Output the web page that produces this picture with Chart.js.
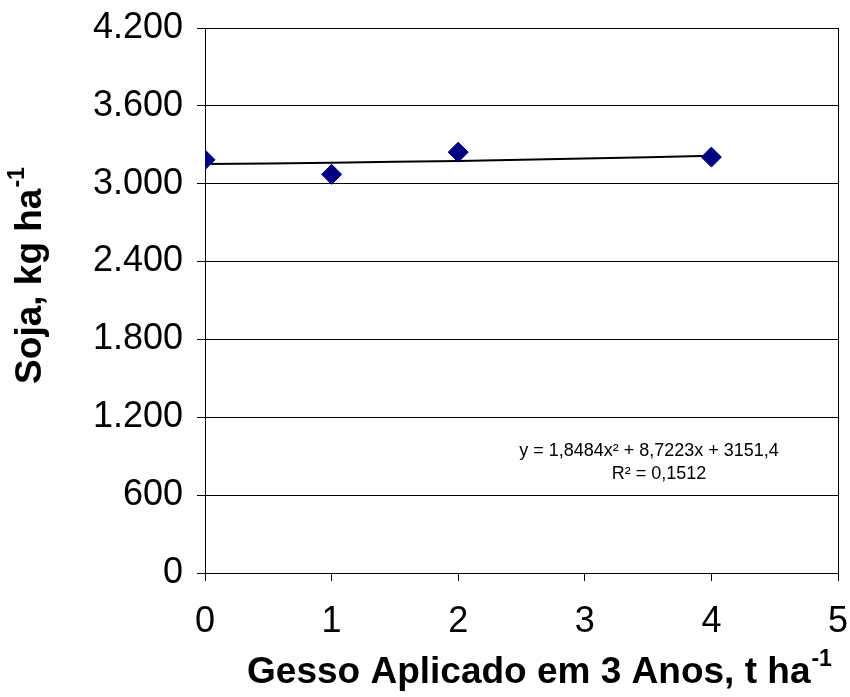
<!DOCTYPE html>
<html>
<head>
<meta charset="utf-8">
<script src="https://cdn.jsdelivr.net/npm/chart.js@4.4.0/dist/chart.umd.min.js"></script>
<style>
    body { margin: 0; background: #fff; }
    #wrap { width: 850px; height: 697px; }
</style>
</head>
<body>
<div id="wrap"><canvas id="chart" width="850" height="697"></canvas></div>
<script>
// Data
const gessoDoses = [0, 1, 2, 4];
const sojaYield = [3185, 3072, 3243, 3205];

// Trend line (polynomial fit shown on chart)
const trendX = [0, 1, 2, 3, 4];
const trendY = [3151, 3162, 3176, 3194, 3215];

const yTicks = [0, 600, 1200, 1800, 2400, 3000, 3600, 4200];
const xTicks = [0, 1, 2, 3, 4, 5];

const equationLines = ['y = 1,8484x\u00b2 + 8,7223x + 3151,4', 'R\u00b2 = 0,1512'];

const FONT = 'Arial, "Liberation Sans", sans-serif';

function formatThousands(v) {
    return String(v).replace(/\B(?=(\d{3})+(?!\d))/g, '.');
}

// Draws axis titles (with superscripts) and the regression equation
const annotations = {
    id: 'annotations',
    afterDraw(chart) {
        const ctx = chart.ctx;
        ctx.save();
        ctx.fillStyle = '#000';

        // equation
        ctx.font = '18px ' + FONT;
        ctx.textAlign = 'center';
        ctx.textBaseline = 'middle';
        ctx.fillText(equationLines[0], 649, 451);
        ctx.fillText(equationLines[1], 659, 474);

        // x title
        const xMain = 'Gesso Aplicado em 3 Anos, t ha';
        const sup = '-1';
        ctx.textAlign = 'left';
        ctx.textBaseline = 'alphabetic';
        ctx.font = 'bold 37px ' + FONT;
        const wMain = ctx.measureText(xMain).width;
        ctx.font = 'bold 23px ' + FONT;
        const wSup = ctx.measureText(sup).width;
        const x0 = 539 - (wMain + wSup) / 2;
        ctx.font = 'bold 37px ' + FONT;
        ctx.fillText(xMain, x0, 683);
        ctx.font = 'bold 23px ' + FONT;
        ctx.fillText(sup, x0 + wMain + 1, 666);

        // y title
        const yMain = 'Soja, kg ha';
        ctx.translate(41, 276);
        ctx.rotate(-Math.PI / 2);
        ctx.font = 'bold 37px ' + FONT;
        const wy = ctx.measureText(yMain).width;
        ctx.font = 'bold 23px ' + FONT;
        const wys = ctx.measureText(sup).width;
        const y0 = -(wy + wys) / 2;
        ctx.font = 'bold 37px ' + FONT;
        ctx.fillText(yMain, y0, 0);
        ctx.font = 'bold 23px ' + FONT;
        ctx.fillText(sup, y0 + wy + 1, -17);

        ctx.restore();
    }
};

new Chart(document.getElementById('chart'), {
    type: 'scatter',
    data: {
        datasets: [
            {
                label: 'Soja',
                data: gessoDoses.map((x, i) => ({ x: x, y: sojaYield[i] })),
                pointStyle: 'rectRot',
                pointRadius: 10,
                pointBackgroundColor: '#000080',
                pointBorderColor: '#000080',
                order: 1
            },
            {
                label: 'Tendência',
                type: 'line',
                data: trendX.map((x, i) => ({ x: x, y: trendY[i] })),
                borderColor: '#000',
                borderWidth: 2,
                pointRadius: 0,
                tension: 0.4,
                fill: false,
                order: 2
            }
        ]
    },
    options: {
        responsive: false,
        animation: false,
        layout: { padding: { top: 28, right: 12, left: 0, bottom: 0 } },
        plugins: {
            legend: { display: false },
            tooltip: { enabled: false }
        },
        scales: {
            x: {
                type: 'linear',
                min: 0,
                max: 5,
                afterBuildTicks: (scale) => { scale.ticks = xTicks.map(v => ({ value: v })); },
                afterFit: (scale) => {
                    scale.height = 124;
                    scale.paddingLeft = 0;
                    scale.paddingRight = 0;
                },
                ticks: {
                    color: '#000',
                    font: { family: FONT, size: 36 },
                    padding: 19
                },
                grid: {
                    color: (c) => (c.tick && c.tick.value === 5 ? '#000' : 'rgba(0,0,0,0)'),
                    tickColor: '#000',
                    tickLength: 8,
                    lineWidth: 1
                },
                border: { display: true, color: '#000', width: 1 }
            },
            y: {
                type: 'linear',
                min: 0,
                max: 4200,
                afterBuildTicks: (scale) => { scale.ticks = yTicks.map(v => ({ value: v })); },
                afterFit: (scale) => {
                    scale.width = 205;
                    scale.paddingTop = 0;
                    scale.paddingBottom = 0;
                },
                ticks: {
                    color: '#000',
                    font: { family: FONT, size: 36 },
                    padding: 14,
                    callback: (v) => formatThousands(v)
                },
                grid: {
                    color: '#000',
                    tickColor: '#000',
                    tickLength: 8,
                    lineWidth: 1
                },
                border: { display: true, color: '#000', width: 1 }
            }
        }
    },
    plugins: [annotations]
});
</script>
</body>
</html>
